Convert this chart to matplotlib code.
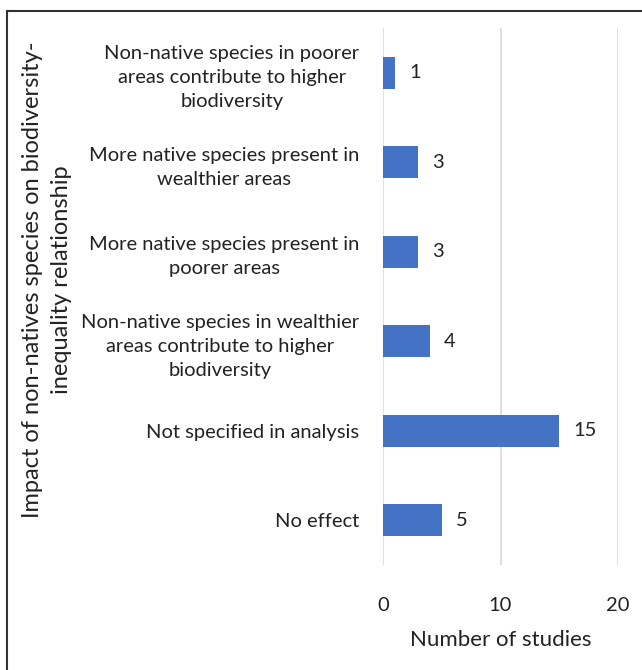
import matplotlib.pyplot as plt
from matplotlib.lines import Line2D

# Data (top to bottom as shown)
categories = [
    'Non-native species in poorer\nareas contribute to higher\nbiodiversity',
    'More native species present in\nwealthier areas',
    'More native species present in\npoorer areas',
    'Non-native species in wealthier\nareas contribute to higher\nbiodiversity',
    'Not specified in analysis',
    'No effect',
]
counts = [1, 3, 3, 4, 15, 5]
xticks = [0, 10, 20]

plt.rcParams['font.family'] = ['Lato', 'DejaVu Sans']

fig = plt.figure(figsize=(6.42, 6.7), dpi=100)
ax = fig.add_axes([0.5966, 0.157, 0.366, 0.801])

pos = list(range(len(categories)))[::-1]
ax.barh(pos, counts, height=0.36, color='#4472C4', zorder=3)
for p, c in zip(pos, counts):
    ax.text(c + 1.2, p, str(c), va='center', ha='left', fontsize=14.5, color='#222222')

ax.set_xlim(0, 20)
ax.set_ylim(-0.5, len(categories) - 0.5)
ax.set_xticks(xticks)
ax.set_yticks(pos)
ax.set_yticklabels(categories, ha='right', multialignment='center', linespacing=1.5)
ax.tick_params(axis='y', length=0, pad=17, labelsize=14.5, labelcolor='#222222')
ax.tick_params(axis='x', length=0, pad=23, labelsize=14.5, labelcolor='#222222')
ax.grid(axis='x', color='#d9d9d9', linewidth=1.2, zorder=0)
for s in ax.spines.values():
    s.set_visible(False)
ax.set_xlabel('Number of studies', fontsize=16, labelpad=12, color='#222222')

fig.text(0.073, 0.582, 'Impact of non-natives species on biodiversity-\ninequality relationship',
         rotation=90, ha='center', va='center', multialignment='center',
         fontsize=17, color='#222222', linespacing=1.45)

# figure border (top and left visible)
fig.add_artist(Line2D([0.011, 1.0], [0.984, 0.984], color='#333333', linewidth=1.5, transform=fig.transFigure))
fig.add_artist(Line2D([0.011, 0.011], [0.0, 0.984], color='#333333', linewidth=1.5, transform=fig.transFigure))

fig.savefig('out.png', dpi=100)
